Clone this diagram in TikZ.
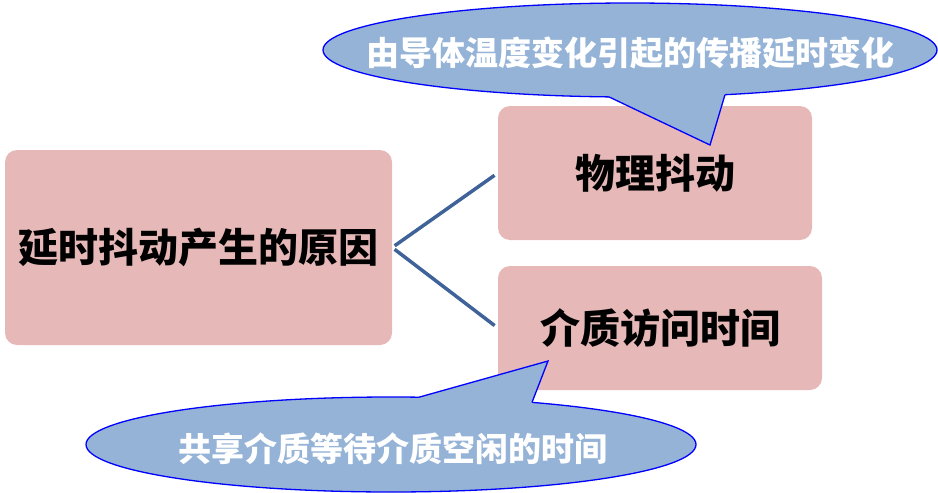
\documentclass[tikz,border=0pt]{standalone}
\usepackage{fontspec}
\setmainfont{Noto Sans CJK SC}
\usetikzlibrary{shapes.geometric}
\definecolor{boxpink}{HTML}{E6B9B8}
\definecolor{callblue}{HTML}{95B3D7}
\definecolor{linkblue}{HTML}{3F6398}
\tikzset{
  causebox/.style={rectangle, rounded corners=12pt, fill=boxpink, inner sep=0pt,
    font=\fontsize{40}{48}\selectfont\bfseries},
  bubble/.style={ellipse, fill=callblue, draw=blue, line width=1.3pt, inner sep=0pt},
  bubbletext/.style={text=white, inner sep=0pt, font=\fontsize{33}{40}\selectfont\bfseries},
  tailfill/.style={fill=callblue},
  tailedge/.style={draw=blue, line width=1.3pt, line join=miter},
  link/.style={draw=linkblue, line width=3.5pt},
}
\begin{document}
\begin{tikzpicture}[x=1pt,y=-1pt]
\useasboundingbox (0,0) rectangle (938,493);
% boxes
\node[causebox, minimum width=387pt, minimum height=195pt] (cause) at (198.5,247.5) {延时抖动产生的原因};
\node[causebox, minimum width=314pt, minimum height=134pt] (phys) at (655,173) {物理抖动};
\node[causebox, minimum width=324pt, minimum height=124pt] (media) at (660,328) {介质访问时间};
% connectors
\draw[link, shorten <=3pt, shorten >=4pt] (cause.east) -- (phys.west);
\draw[link, shorten <=3pt, shorten >=4pt] (cause.east) -- (media.west);
% top callout
\node[bubble, minimum width=614pt, minimum height=94pt] (topbub) at (630,50) {};
\fill[tailfill] (605,85) -- (609,96.9) -- (710,145) -- (725,94.7) -- (729,85) -- cycle;
\draw[tailedge] (609,96.9) -- (710,145) -- (725,94.7);
\node[bubbletext] (toptext) at (630,53) {由导体温度变化引起的传播延时变化};
% bottom callout
\node[bubble, minimum width=610pt, minimum height=95pt] (botbub) at (391,444.5) {};
\fill[tailfill] (415,410) -- (419,397.2) -- (548,361) -- (532,402.4) -- (536,410) -- cycle;
\draw[tailedge] (419,397.2) -- (548,361) -- (532,402.4);
\node[bubbletext] (bottext) at (393,449) {共享介质等待介质空闲的时间};
\end{tikzpicture}
\end{document}
